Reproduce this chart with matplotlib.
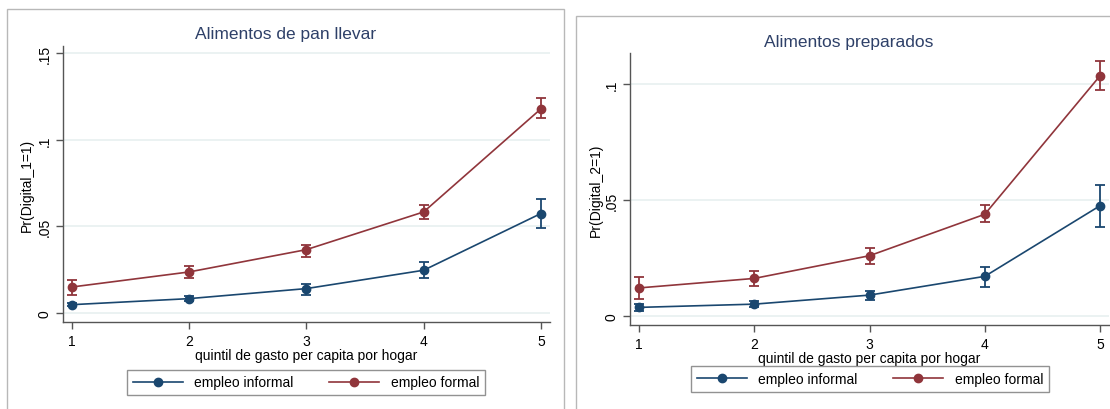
import matplotlib
matplotlib.use("Agg")
import matplotlib.pyplot as plt
from matplotlib.patches import Rectangle
from matplotlib.lines import Line2D

plt.rcParams['font.family'] = ['Liberation Sans', 'DejaVu Sans']

quintiles = [1, 2, 3, 4, 5]

# panel 1: alimentos de pan llevar
informal_y1 = [0.0048, 0.0083, 0.0141, 0.0247, 0.0575]
informal_lo1 = [0.0038, 0.0068, 0.0106, 0.0201, 0.0490]
informal_hi1 = [0.0058, 0.0098, 0.0168, 0.0293, 0.0659]
formal_y1 = [0.0150, 0.0237, 0.0366, 0.0584, 0.1180]
formal_lo1 = [0.0104, 0.0200, 0.0326, 0.0543, 0.1125]
formal_hi1 = [0.0190, 0.0272, 0.0395, 0.0622, 0.1241]

# panel 2: alimentos preparados
informal_y2 = [0.0036, 0.0050, 0.0089, 0.0170, 0.0475]
informal_lo2 = [0.0022, 0.0036, 0.0066, 0.0125, 0.0382]
informal_hi2 = [0.0050, 0.0064, 0.0107, 0.0212, 0.0564]
formal_y2 = [0.0120, 0.0161, 0.0259, 0.0438, 0.1036]
formal_lo2 = [0.0072, 0.0130, 0.0223, 0.0403, 0.0976]
formal_hi2 = [0.0166, 0.0192, 0.0291, 0.0478, 0.1098]

yticks1 = [0, 0.05, 0.1, 0.15]
yticklabels1 = ['0', '.05', '.1', '.15']
yticks2 = [0, 0.05, 0.1]
yticklabels2 = ['0', '.05', '.1']

navy = '#1a476f'
maroon = '#90353b'
W, H = 1110, 410

fig = plt.figure(figsize=(W / 100, H / 100), dpi=100)
fig.patch.set_facecolor('white')

# outer frames of the two screenshots
fig.patches.append(Rectangle((7 / W, -0.1), (564 - 7) / W, (H - 10) / H + 0.1,
                             transform=fig.transFigure, fill=False, ec='#b8b8b8', lw=1))
fig.patches.append(Rectangle((576 / W, -0.1), 0.5, (H - 17) / H + 0.1,
                             transform=fig.transFigure, fill=False, ec='#b8b8b8', lw=1))


def panel(rect, title, ylabel, y_inf, lo_inf, hi_inf, y_for, lo_for, hi_for,
          yt, ytl, ylim, title_y, ylab_x, leg_center):
    ax = fig.add_axes([rect[0] / W, 1 - rect[3] / H, (rect[2] - rect[0]) / W, (rect[3] - rect[1]) / H])
    handles = []
    for y, lo, hi, c, lab in [(y_inf, lo_inf, hi_inf, navy, 'empleo informal'),
                              (y_for, lo_for, hi_for, maroon, 'empleo formal')]:
        err = [[a - b for a, b in zip(y, lo)], [b - a for a, b in zip(y, hi)]]
        ax.errorbar(quintiles, y, yerr=err, fmt='-o', color=c, ms=6, lw=1.2,
                    elinewidth=1.3, capsize=3.5, capthick=1.3)
        handles.append(Line2D([], [], color=c, marker='o', ms=6, lw=1.2, label=lab))
    ax.set_xlim(0.923, 5.077)
    ax.set_ylim(*ylim)
    ax.set_xticks(quintiles)
    ax.set_yticks(yt)
    ax.set_yticklabels(ytl, rotation=90, va='center')
    ax.grid(axis='y', color='#e8f0f0', lw=1.2)
    ax.set_axisbelow(True)
    for s in ['top', 'right']:
        ax.spines[s].set_visible(False)
    for s in ['left', 'bottom']:
        ax.spines[s].set_color('#555555')
        ax.spines[s].set_linewidth(1)
    ax.tick_params(colors='#555555', labelcolor='black', labelsize=10, length=5, width=1)
    ax.tick_params(axis='y', pad=3)
    ax.set_xlabel('quintil de gasto per capita por hogar', fontsize=10, labelpad=0)
    ax.set_ylabel(ylabel, fontsize=10)
    ax.yaxis.set_label_coords(ylab_x, 0.5)
    fig.text(rect[4] / W, 1 - title_y / H, title, ha='center', va='center',
             fontsize=12.5, color='#2e4068')
    fig.legend(handles=handles, loc='center',
               bbox_to_anchor=(leg_center[0] / W, 1 - leg_center[1] / H),
               ncol=2, fontsize=10, frameon=True, fancybox=False, edgecolor='#777777',
               handlelength=3.6, columnspacing=2.6, borderpad=0.4, handletextpad=0.8)
    return ax


panel((62.5, 47, 550, 323, 286), 'Alimentos de pan llevar', 'Pr(Digital_1=1)',
      informal_y1, informal_lo1, informal_hi1, formal_y1, formal_lo1, formal_hi1,
      yticks1, yticklabels1, (-0.0052, 0.1543), 35, -0.058, (306, 383.5))

panel((630, 54, 1109, 326, 849), 'Alimentos preparados', 'Pr(Digital_2=1)',
      informal_y2, informal_lo2, informal_hi2, formal_y2, formal_lo2, formal_hi2,
      yticks2, yticklabels2, (-0.004, 0.1134), 42, -0.056, (870, 380))

fig.savefig('out.png', dpi=100)
